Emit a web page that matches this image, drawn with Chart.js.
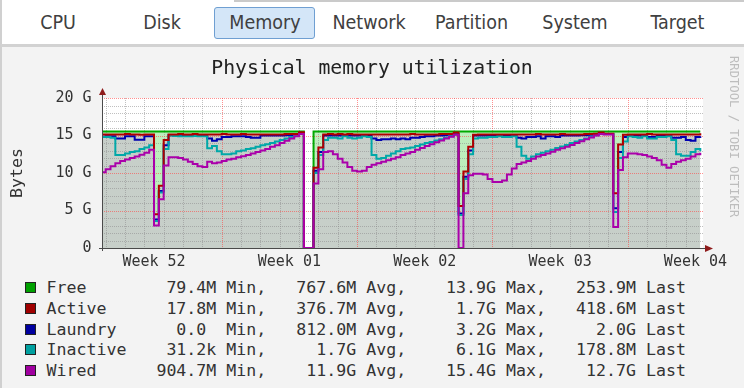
<!DOCTYPE html>
<html>
<head>
<meta charset="utf-8">
<script src="https://cdn.jsdelivr.net/npm/chart.js@4.4.1/dist/chart.umd.min.js"></script>
<style>
  html, body { margin:0; padding:0; }
  body { width:744px; height:388px; overflow:hidden; background:#ffffff; position:relative; }
  #tabbar { position:absolute; left:0; top:0; width:744px; height:44px; background:#fff; border-left:2px solid #d0d0d0; box-sizing:border-box; }
  #tabtopline { position:absolute; left:232px; top:0; width:512px; height:2px; background:#cacaca; }
  #activeTab { position:absolute; left:212px; top:7px; width:101px; height:32px; box-sizing:border-box; border:1px solid #6f9fd2; border-radius:3px; background:#d4e6f8; }
  .tab { position:absolute; top:8px; height:30px; line-height:30px; transform:translateX(-50%); font-family:'Liberation Sans Narrow','DejaVu Sans Condensed',sans-serif; font-size:19.5px; color:#404040; white-space:nowrap; }
  #panel { position:absolute; left:0; top:44px; width:744px; height:344px; background:#f3f3f3; border-top:3px solid #d2d2d2; border-left:2px solid #d0d0d0; box-sizing:border-box; }
  #chartBox { position:absolute; left:0; top:47px; width:744px; height:228px; }
  #watermark { position:absolute; left:728px; top:56px; writing-mode:vertical-rl; font-family:'DejaVu Sans Mono',monospace; font-size:12.2px; line-height:12px; color:#bdbdbd; white-space:nowrap; }
  .row { position:absolute; left:46.5px; height:21px; white-space:pre; font-family:'DejaVu Sans Mono',monospace; font-size:16.6px; line-height:21px; color:#333; }
  .sw { position:absolute; left:25px; width:9px; height:9px; border:1px solid #222; }
</style>
</head>
<body>
<div id="tabbar"><div id="tabtopline"></div><div id="activeTab"></div></div>
<div id="panel"></div>
<div id="chartBox"><canvas id="chart" width="744" height="228"></canvas></div>
<div id="watermark">RRDTOOL / TOBI OETIKER</div>
<div id="legend"></div>
<script>
// ---- tabs ----
const tabNames = ['CPU','Disk','Memory','Network','Partition','System','Target'];
const tabCenters = [56, 160, 263, 367, 469.5, 573, 675.5];

// ---- time axis: samples in days since the start of week 52 ----
const sampleStart = 0.75;
const sampleStep = 0.25;
const weekTickDays = [3.5, 10.5, 17.5, 24.5, 31.5];
const weekLabels = ['Week 52', 'Week 01', 'Week 02', 'Week 03', 'Week 04'];
const yTickValues = [0, 5, 10, 15, 20];

// ---- stacked band tops as drawn on the graph (GB) ----
const wiredLevel = [
  10.1, 10.5, 10.9, 11.3, 11.6, 11.8, 12.0, 12.2, 12.45, 12.7,
  13.1, 3.0, 6.5, 11.0, 12.1, 12.1, 12.0, 11.8, 11.5, 11.2,
  10.9, 10.8, 11.5, 11.3, 11.4, 11.6, 11.8, 11.9, 12.1, 12.25,
  12.4, 12.6, 12.8, 13.0, 13.2, 13.5, 13.7, 14.0, 14.3, 14.6,
  14.9, 15.2, 0, 0, 8.6, 10.5, 12.8, 12.9, 12.5, 11.9,
  11.4, 10.8, 10.3, 10.2, 10.3, 10.8, 11.1, 11.3, 11.5, 11.7,
  11.9, 12.1, 12.4, 12.6, 12.8, 13.1, 13.35, 13.6, 13.85, 14.1,
  14.35, 14.6, 14.85, 15.1, 0, 7.3, 9.7, 9.9, 9.9, 9.8,
  9.2, 8.8, 8.8, 9.0, 9.8, 10.6, 11.2, 11.4, 11.6, 11.9,
  12.2, 12.4, 12.6, 12.85, 13.1, 13.3, 13.5, 13.75, 14.0, 14.25,
  14.5, 14.75, 15.0, 15.2, 15.15, 15.15, 2.8, 10.4, 12.1, 12.6,
  12.6, 12.5, 12.4, 12.2, 12.0, 11.7, 11.1, 10.7, 11.2, 11.5,
  11.7, 11.9, 12.2, 12.5, 12.7
];
const inactiveLevel = [
  14.8, 14.8, 14.7, 12.4, 12.4, 12.6, 12.8, 12.9, 13.2, 13.4,
  13.7, 3.6, 7.4, 13.2, 15.0, 14.95, 14.9, 14.9, 14.9, 14.95,
  14.9, 14.9, 13.3, 13.6, 12.9, 12.5, 12.5, 12.6, 12.9, 13.0,
  13.2, 13.3, 13.5, 13.7, 13.85, 14.0, 14.2, 14.4, 14.6, 14.8,
  15.0, 15.25, 0, 0, 10.0, 12.4, 14.4, 14.7, 14.7, 14.6,
  14.9, 14.7, 14.6, 14.7, 14.9, 14.8, 12.4, 11.9, 12.0, 12.3,
  12.6, 12.9, 13.2, 13.3, 13.4, 13.6, 13.8, 14.0, 14.15, 14.35,
  14.5, 14.7, 14.9, 15.15, 4.4, 9.2, 12.5, 14.6, 14.7, 14.7,
  14.8, 14.8, 14.9, 14.8, 14.8, 14.9, 13.5, 12.3, 11.9, 12.2,
  12.5, 12.7, 12.9, 13.1, 13.35, 13.55, 13.75, 14.0, 14.2, 14.4,
  14.6, 14.85, 15.05, 15.2, 15.2, 15.2, 4.8, 12.0, 14.2, 14.9,
  14.8, 14.7, 14.9, 14.6, 14.6, 14.8, 14.8, 14.9, 14.4, 12.5,
  12.3, 12.3, 12.8, 13.2, 12.9
];
const laundryLevel = [
  14.85, 14.9, 14.9, 14.6, 14.6, 14.9, 14.9, 14.45, 14.45, 14.9,
  14.9, 3.8, 7.6, 13.7, 15.05, 15.0, 15.0, 15.0, 15.0, 15.0,
  15.0, 15.0, 14.6, 14.3, 14.5, 14.8, 14.8, 14.9, 14.9, 14.9,
  14.8, 14.7, 14.7, 15.0, 15.0, 15.0, 15.0, 15.0, 15.05, 15.05,
  15.1, 15.3, 0, 0, 10.3, 12.8, 15.0, 15.0, 15.0, 15.0,
  15.0, 15.0, 15.0, 15.0, 15.0, 15.0, 14.6, 14.4, 14.5, 14.5,
  14.6, 14.5, 14.6, 14.5, 14.7, 14.7, 14.8, 14.9, 14.9, 15.0,
  15.0, 15.05, 15.1, 15.2, 4.6, 9.5, 13.0, 15.0, 15.0, 15.0,
  15.0, 15.0, 15.0, 15.0, 15.0, 15.0, 14.7, 14.6, 14.8, 14.8,
  14.9, 14.6, 14.9, 14.9, 14.8, 15.0, 15.0, 15.0, 15.0, 15.05,
  15.05, 15.1, 15.15, 15.25, 15.2, 15.2, 5.3, 12.8, 14.8, 15.0,
  15.0, 15.0, 15.0, 14.8, 14.8, 15.0, 15.0, 15.0, 14.7, 14.7,
  14.8, 14.4, 14.3, 14.8, 14.9
];
const activeLevel = [
  15.15, 15.15, 15.15, 15.15, 15.15, 15.2, 15.15, 15.15, 15.1, 15.15,
  15.15, 4.5, 8.3, 14.4, 15.15, 15.15, 15.2, 15.15, 15.15, 15.2,
  15.15, 15.15, 15.15, 15.15, 15.15, 15.2, 15.15, 15.15, 15.15, 15.2,
  15.15, 15.15, 15.15, 15.15, 15.15, 15.15, 15.15, 15.15, 15.2, 15.2,
  15.2, 15.45, 0, 0, 10.7, 13.4, 15.15, 15.2, 15.15, 15.2,
  15.15, 15.2, 15.15, 15.15, 15.15, 15.15, 15.15, 15.15, 15.15, 15.15,
  15.15, 15.15, 15.15, 15.15, 15.2, 15.15, 15.15, 15.15, 15.15, 15.15,
  15.2, 15.2, 15.2, 15.4, 5.6, 10.2, 13.5, 15.1, 15.15, 15.15,
  15.15, 15.15, 15.15, 15.15, 15.15, 15.15, 15.15, 15.15, 15.15, 15.15,
  15.2, 15.15, 15.15, 15.15, 15.15, 15.2, 15.15, 15.15, 15.15, 15.15,
  15.2, 15.2, 15.25, 15.4, 15.25, 15.25, 7.3, 13.8, 15.1, 15.15,
  15.15, 15.15, 15.15, 15.2, 15.15, 15.15, 15.15, 15.15, 15.15, 15.15,
  15.15, 15.15, 15.15, 15.15, 15.3
];
const freeLevel = [
  15.55, 15.55, 15.55, 15.55, 15.55, 15.55, 15.55, 15.55, 15.55, 15.55,
  15.55, 15.55, 15.55, 15.55, 15.55, 15.55, 15.55, 15.55, 15.55, 15.55,
  15.55, 15.55, 15.55, 15.55, 15.55, 15.55, 15.55, 15.55, 15.55, 15.55,
  15.55, 15.55, 15.55, 15.55, 15.55, 15.55, 15.55, 15.55, 15.55, 15.55,
  15.55, 15.55, 0, 0, 15.55, 15.55, 15.55, 15.55, 15.55, 15.55,
  15.55, 15.55, 15.55, 15.55, 15.55, 15.55, 15.55, 15.55, 15.55, 15.55,
  15.55, 15.55, 15.55, 15.55, 15.55, 15.55, 15.55, 15.55, 15.55, 15.55,
  15.55, 15.55, 15.55, 15.55, 15.55, 15.55, 15.55, 15.55, 15.55, 15.55,
  15.55, 15.55, 15.55, 15.55, 15.55, 15.55, 15.55, 15.55, 15.55, 15.55,
  15.55, 15.55, 15.55, 15.55, 15.55, 15.55, 15.55, 15.55, 15.55, 15.55,
  15.55, 15.55, 15.55, 15.55, 15.55, 15.55, 15.55, 15.55, 15.55, 15.55,
  15.55, 15.55, 15.55, 15.55, 15.55, 15.55, 15.55, 15.55, 15.55, 15.55,
  15.55, 15.55, 15.55, 15.55, 15.55
];

// ---- legend ----
const seriesNames = ['Free', 'Active', 'Laundry', 'Inactive', 'Wired'];
const seriesColors = ['#00a000', '#a00000', '#0000a0', '#00a0a0', '#a000a0'];
const statMin = ['79.4M', '17.8M', '0.0 ', '31.2k', '904.7M'];
const statAvg = ['767.6M', '376.7M', '812.0M', '1.7G', '11.9G'];
const statMax = ['13.9G', '1.7G', '3.2G', '6.1G', '15.4G'];
const statLast = ['253.9M', '418.6M', '2.0G', '178.8M', '12.7G'];

const chartTitle = 'Physical memory utilization';
const lineColors = { free:'#00aa00', active:'#b00000', laundry:'#0000b0', inactive:'#00a8a8', wired:'#aa00aa' };
const usedFill = '#c7cfc9';
const freeFill = '#bdeebd';
const minorGridColor = 'rgba(140,140,140,0.55)';
const majorGridColor = 'rgba(255,70,70,0.6)';

// build tabs
tabNames.forEach((n, i) => {
  const d = document.createElement('div');
  d.className = 'tab'; d.textContent = n; d.style.left = tabCenters[i] + 'px';
  document.getElementById('tabbar').appendChild(d);
});

// build legend
const legendEl = document.getElementById('legend');
seriesNames.forEach((n, i) => {
  const top = 277.2 + 20.75 * i;
  const sw = document.createElement('div');
  sw.className = 'sw'; sw.style.top = (top + 5) + 'px'; sw.style.background = seriesColors[i];
  legendEl.appendChild(sw);
  const r = document.createElement('div');
  r.className = 'row'; r.style.top = top + 'px';
  r.textContent = n.padEnd(8) + statMin[i].padStart(9) + ' Min,' + statAvg[i].padStart(9) + ' Avg,' +
                  statMax[i].padStart(9) + ' Max,' + statLast[i].padStart(9) + ' Last';
  legendEl.appendChild(r);
});

const days = wiredLevel.map((_, i) => sampleStart + i * sampleStep);
const pts = arr => arr.map((v, i) => ({ x: days[i], y: v }));

const common = { borderWidth: 2, pointRadius: 0, stepped: true, tension: 0, borderJoinStyle: 'miter', borderCapStyle: 'butt' };

const bgPlugin = {
  id: 'plotBg',
  beforeDraw(chart) {
    const { ctx, chartArea: a } = chart;
    ctx.save(); ctx.fillStyle = '#ffffff';
    ctx.fillRect(a.left, a.top, a.right - a.left, a.bottom - a.top);
    ctx.restore();
  }
};
const gridPlugin = {
  id: 'rrdGrid',
  beforeDatasetsDraw(chart) {
    const { ctx, chartArea: a, scales: { x, y } } = chart;
    ctx.save();
    ctx.beginPath(); ctx.rect(a.left, a.top - 1, a.right - a.left, a.bottom - a.top + 1); ctx.clip();
    ctx.lineWidth = 1;
    const vLine = v => { const p = Math.round(x.getPixelForValue(v)) + 0.5; ctx.moveTo(p, a.top); ctx.lineTo(p, a.bottom); };
    const hLine = v => { const p = Math.round(y.getPixelForValue(v)) + 0.5; ctx.moveTo(a.left, p); ctx.lineTo(a.right, p); };
    ctx.setLineDash([1, 1]);
    ctx.strokeStyle = minorGridColor;
    ctx.beginPath();
    for (let d = Math.ceil(x.min); d <= x.max; d++) if (d % 7) vLine(d);
    for (let g = 1; g < y.max; g++) if (g % 5) hLine(g);
    ctx.stroke();
    ctx.strokeStyle = majorGridColor;
    ctx.beginPath();
    for (let d = 7; d <= x.max; d += 7) vLine(d);
    for (let g = 5; g <= y.max; g += 5) hLine(g);
    ctx.stroke();
    ctx.restore();
  }
};
const axisPlugin = {
  id: 'rrdAxes',
  afterDatasetsDraw(chart) {
    const { ctx, chartArea: a } = chart;
    ctx.save();
    ctx.strokeStyle = '#4a4a4a'; ctx.lineWidth = 1;
    const bx = Math.round(a.left) + 0.5, by = Math.round(a.bottom) + 0.5;
    ctx.beginPath();
    ctx.moveTo(a.left - 3, by); ctx.lineTo(a.right + 4, by);
    ctx.moveTo(bx, a.bottom + 3); ctx.lineTo(bx, a.top - 4);
    ctx.stroke();
    ctx.fillStyle = '#8f1c1c';
    ctx.beginPath(); ctx.moveTo(a.right + 2, by - 3.5); ctx.lineTo(a.right + 10, by); ctx.lineTo(a.right + 2, by + 3.5); ctx.closePath(); ctx.fill();
    ctx.beginPath(); ctx.moveTo(bx - 3.5, a.top - 3); ctx.lineTo(bx, a.top - 10); ctx.lineTo(bx + 3.5, a.top - 3); ctx.closePath(); ctx.fill();
    ctx.restore();
  }
};

const monoTick = { family: 'DejaVu Sans Mono', size: 15 };

new Chart(document.getElementById('chart'), {
  type: 'line',
  data: {
    datasets: [
      Object.assign({ label: 'Wired', order: 0, data: pts(wiredLevel), borderColor: lineColors.wired, fill: false }, common),
      Object.assign({ label: 'Inactive', order: 2, data: pts(inactiveLevel), borderColor: lineColors.inactive, fill: false }, common),
      Object.assign({ label: 'Laundry', order: 3, data: pts(laundryLevel), borderColor: lineColors.laundry, fill: false }, common),
      Object.assign({ label: 'Active', order: 1, data: pts(activeLevel), borderColor: lineColors.active, fill: 'origin', backgroundColor: usedFill }, common),
      Object.assign({ label: 'Free', order: 4, data: pts(freeLevel), borderColor: lineColors.free, fill: '-1', backgroundColor: freeFill }, common)
    ]
  },
  options: {
    responsive: false, animation: false, events: [],
    layout: { padding: { left: 0, right: 0, top: 0, bottom: 0 } },
    plugins: {
      legend: { display: false }, tooltip: { enabled: false },
      filler: { drawTime: 'beforeDatasetsDraw', propagate: false },
      title: { display: true, text: chartTitle, color: '#222', font: { family: 'DejaVu Sans Mono', size: 19.8, weight: 'normal', lineHeight: 1.2 }, padding: { top: 10, bottom: 17.24 } }
    },
    scales: {
      x: {
        type: 'linear', min: 0.81, max: 31.89,
        grid: { display: false, drawTicks: false }, border: { display: false },
        afterBuildTicks: s => { s.ticks = weekTickDays.map(v => ({ value: v })); },
        afterFit: s => { s.height = 27; },
        ticks: { autoSkip: false, maxRotation: 0, minRotation: 0, padding: 5, color: '#333', font: monoTick,
                 callback: (v, i) => weekLabels[i] }
      },
      y: {
        min: 0, max: 20,
        grid: { display: false, drawTicks: false }, border: { display: false },
        afterBuildTicks: s => { s.ticks = yTickValues.map(v => ({ value: v })); },
        afterFit: s => { s.width = 102; },
        ticks: { padding: 10.5, color: '#333', font: monoTick, callback: v => (v === 0 ? '0' : v + ' G') },
        title: { display: true, text: 'Bytes', color: '#333', font: { family: 'DejaVu Sans Mono', size: 16.6, lineHeight: 1.2 }, padding: { top: 7.7, bottom: 0 } }
      },
      yRight: {
        position: 'right', min: 0, max: 20,
        grid: { display: false, drawTicks: false }, border: { display: false },
        ticks: { display: false },
        afterFit: s => { s.width = 41; }
      }
    }
  },
  plugins: [bgPlugin, gridPlugin, axisPlugin]
});
</script>
</body>
</html>
